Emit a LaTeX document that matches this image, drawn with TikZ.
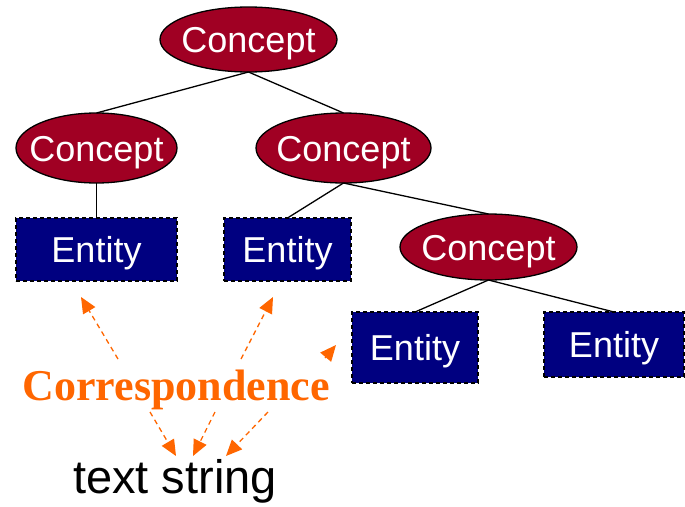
\documentclass[tikz,border=0pt]{standalone}
\usepackage{fontspec}
\newfontfamily\arialf{Liberation Sans}
\newfontfamily\timesf{Liberation Serif}
\usetikzlibrary{shapes.geometric,arrows.meta}
\definecolor{conceptred}{RGB}{160,0,35}
\definecolor{entitynavy}{RGB}{0,0,128}
\definecolor{corrorange}{RGB}{255,102,0}
\tikzset{
  x=1pt, y=-1pt,
  concept/.style={ellipse, draw=black, line width=1.3pt, fill=conceptred, text=white,
    inner sep=0pt, outer sep=0pt, font=\arialf\fontsize{36}{40}\selectfont, text height=26pt, text depth=0pt},
  entity/.style={rectangle, draw=black, dash pattern=on 4pt off 3pt, line width=1.3pt,
    fill=entitynavy, text=white, inner sep=0pt, outer sep=0pt,
    font=\arialf\fontsize{36}{40}\selectfont, text height=26pt, text depth=0pt},
  tree/.style={draw=black, line width=1.3pt},
  corr/.style={draw=corrorange, line width=1.3pt, dash pattern=on 5pt off 4pt,
    -{Triangle[length=16pt,width=14pt]}, corrorange}
}
\newcommand{\zw}[1]{\makebox[0pt]{#1}}
\begin{document}
\begin{tikzpicture}
\useasboundingbox (0,0) rectangle (685,506);
% concepts
\node[concept, minimum width=177pt, minimum height=65pt] (c0) at (248.5,39.5) {\zw{Concept}};
\node[concept, minimum width=161pt, minimum height=70pt] (c1) at (96.5,148) {\zw{Concept}};
\node[concept, minimum width=175pt, minimum height=70pt] (c2) at (343.5,148) {\zw{Concept}};
\node[concept, minimum width=177pt, minimum height=66pt] (c3) at (488.5,247) {\zw{Concept}};
% entities
\node[entity, minimum width=161pt, minimum height=63pt] (e1) at (96.5,249.5) {Entity};
\node[entity, minimum width=127pt, minimum height=63pt] (e2) at (287.5,249.5) {Entity};
\node[entity, minimum width=126pt, minimum height=71pt] (e3) at (415,347.5) {Entity};
\node[entity, minimum width=140pt, minimum height=65pt] (e4) at (614,344.5) {Entity};
% tree edges
\draw[tree] (c0.south) -- (c1.north);
\draw[tree] (c0.south) -- (c2.north);
\draw[tree] (c1.south) -- (e1.north);
\draw[tree] (c2.south) -- (e2.north);
\draw[tree] (c2.south) -- (c3.north);
\draw[tree] (c3.south) -- (e3.north);
\draw[tree] (c3.south) -- (e4.north);
% labels
\node[text=corrorange, inner sep=0pt, font=\timesf\bfseries\fontsize{44}{48}\selectfont,
  text height=29pt, text depth=0pt] (corr) at (176,385.5) {Correspondence};
\node[text=black, inner sep=0pt, font=\arialf\fontsize{47}{52}\selectfont,
  text height=34pt, text depth=0pt] (ts) at (175,476.5) {text string};
% arrow endpoints
\coordinate (a1s) at (118,359); \coordinate (a1e) at (81,297);
\coordinate (a2s) at (241,359); \coordinate (a2e) at (273,297);
\coordinate (a3s) at (325,358); \coordinate (a3e) at (336,345);
\coordinate (a4s) at (150,412); \coordinate (a4e) at (176,456);
\coordinate (a5s) at (215,412); \coordinate (a5e) at (193,456);
\coordinate (a6s) at (268,412); \coordinate (a6e) at (226,456);
\draw[corr] (a1s) -- (a1e);
\draw[corr] (a2s) -- (a2e);
\draw[corr] (a3s) -- (a3e);
\draw[corr] (a4s) -- (a4e);
\draw[corr] (a5s) -- (a5e);
\draw[corr] (a6s) -- (a6e);
\end{tikzpicture}
\end{document}
